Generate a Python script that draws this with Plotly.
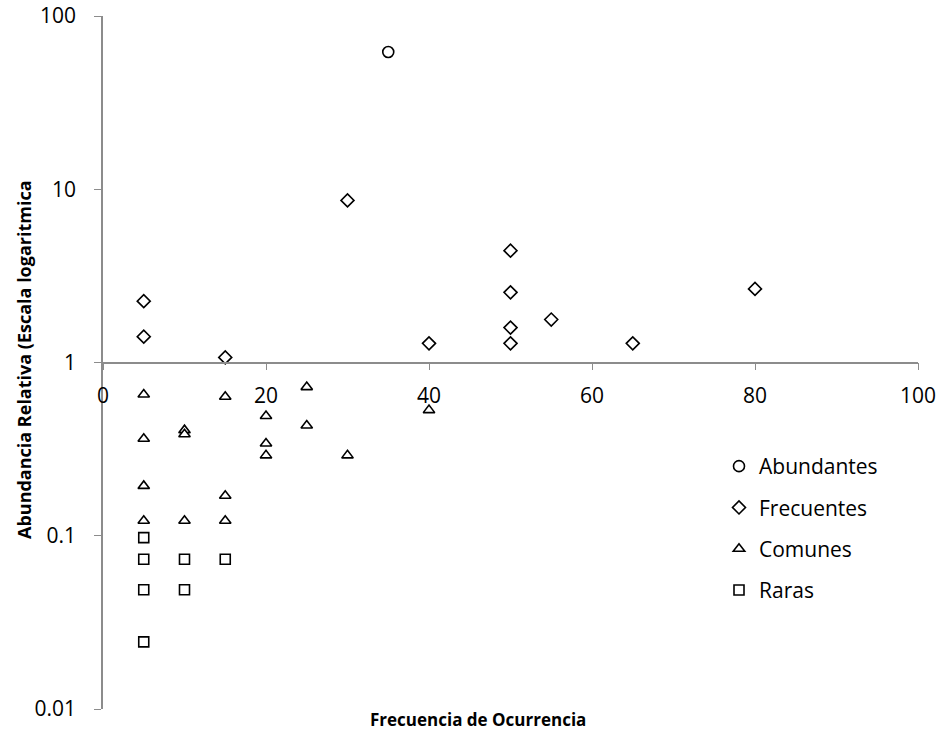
import plotly.graph_objects as go

# ---- data ----
abund_x = [35]
abund_y = [62]

frec_x = [5, 5, 15, 30, 40, 50, 50, 50, 50, 55, 65, 80]
frec_y = [2.26, 1.41, 1.07, 8.62, 1.29, 4.42, 2.54, 1.59, 1.29, 1.77, 1.29, 2.66]

com_x = [5, 5, 5, 5, 10, 10, 10, 15, 15, 15, 20, 20, 20, 25, 25, 30, 40]
com_y = [0.654, 0.363, 0.194, 0.122, 0.407, 0.385, 0.122, 0.634, 0.17, 0.122,
         0.491, 0.341, 0.291, 0.721, 0.433, 0.291, 0.531]

rar_x = [5, 5, 5, 5, 10, 10, 15]
rar_y = [0.0976, 0.0732, 0.0488, 0.0244, 0.0732, 0.0488, 0.0732]

x_ticks = [0, 20, 40, 60, 80, 100]
y_ticks = [0.01, 0.1, 1, 10, 100]
y_ticktext = ["0.01", "0.1", "1", "10", "100"]

FONT = "Open Sans"
W, H = 942, 736
L, R, T, B = 103, 24, 16, 27
pw, ph = W - L - R, H - T - B

fig = go.Figure()

def add(name, xs, ys, symbol, size, group):
    fig.add_trace(go.Scatter(
        x=xs, y=ys, mode="markers", name=name, legendgroup=group,
        marker=dict(symbol=symbol, size=size, color="white",
                    line=dict(color="black", width=1.6)),
    ))

add("Abundantes", abund_x, abund_y, "circle", 11, "a")
add("Frecuentes", frec_x, frec_y, "diamond", 10, "b")
add("Comunes", com_x, com_y, "triangle-up", 10, "c")
add("Raras", rar_x, rar_y, "square", 10, "d")

fig.update_layout(
    width=W, height=H,
    margin=dict(l=L, r=R, t=T, b=B, autoexpand=False),
    paper_bgcolor="white", plot_bgcolor="white",
    font=dict(family=FONT, size=21, color="black"),
    showlegend=True,
    legend=dict(x=(719 - L) / pw, y=((H - B) - 446) / ph, xanchor="left", yanchor="top",
                font=dict(family=FONT, size=21, color="black"),
                tracegroupgap=11, bgcolor="rgba(0,0,0,0)", itemwidth=30),
    xaxis=dict(range=[0, 100], tickvals=x_ticks, showgrid=False, zeroline=False,
               showline=True, linecolor="#8c8c8c", linewidth=1.5,
               ticks="outside", ticklen=7, tickcolor="#8c8c8c", tickwidth=1.2,
               anchor="free", position=0.5, automargin=False,
               ticklabelstandoff=8,
               tickfont=dict(family=FONT, size=21, color="black")),
    yaxis=dict(type="log", range=[-2, 2], tickvals=y_ticks, ticktext=y_ticktext,
               showgrid=False, zeroline=False, showline=True,
               linecolor="#8c8c8c", linewidth=1.5, automargin=False,
               ticks="outside", ticklen=7, tickcolor="#8c8c8c", tickwidth=1.2,
               ticklabelstandoff=14,
               tickfont=dict(family=FONT, size=21, color="black")),
    annotations=[
        dict(text="<b>Frecuencia de Ocurrencia</b>", xref="paper", yref="paper",
             x=(478 - L) / pw, y=-(719 - (H - B)) / ph, xanchor="center", yanchor="middle",
             showarrow=False, font=dict(family=FONT, size=17, color="black")),
        dict(text="<b>Abundancia Relativa (Escala logaritmica</b>", xref="paper", yref="paper",
             x=(24 - L) / pw, y=((H - B) - 360) / ph, xanchor="center", yanchor="middle",
             textangle=-90, showarrow=False, font=dict(family=FONT, size=18, color="black")),
    ],
)

fig.write_html("out.html")
